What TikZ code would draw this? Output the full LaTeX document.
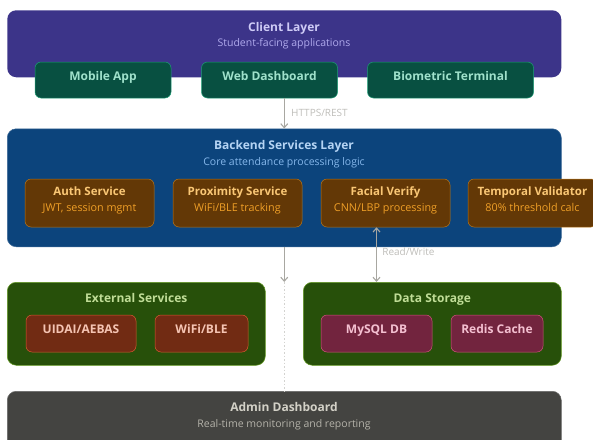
\documentclass[tikz,border=0pt]{standalone}
\usepackage{fontspec}
\setmainfont{Open Sans}
\usepackage{xcolor}
\definecolor{clientbg}{HTML}{3C3489}
\definecolor{clienttxt}{HTML}{CECBF6}
\definecolor{clientsub}{HTML}{AFA9EC}
\definecolor{appbg}{HTML}{085041}
\definecolor{appline}{HTML}{1D9E75}
\definecolor{apptxt}{HTML}{9FE1CB}
\definecolor{backbg}{HTML}{0C447C}
\definecolor{backtxt}{HTML}{B5D4F4}
\definecolor{backsub}{HTML}{85B7EB}
\definecolor{svcbg}{HTML}{633806}
\definecolor{svcline}{HTML}{BA7517}
\definecolor{svctxt}{HTML}{FAC775}
\definecolor{svcsub}{HTML}{EF9F27}
\definecolor{extbg}{HTML}{27500A}
\definecolor{extline}{HTML}{639922}
\definecolor{exttxt}{HTML}{C0DD97}
\definecolor{apibg}{HTML}{712B13}
\definecolor{apiline}{HTML}{D85A30}
\definecolor{apitxt}{HTML}{F5C4B3}
\definecolor{dbbg}{HTML}{72243E}
\definecolor{dbline}{HTML}{D4537E}
\definecolor{dbtxt}{HTML}{F4C0D1}
\definecolor{adminbg}{HTML}{444441}
\definecolor{admintxt}{HTML}{D3D1C7}
\definecolor{adminsub}{HTML}{B4B2A9}
\definecolor{linkgray}{HTML}{A8A7A1}
\usepackage{tikz}
\usetikzlibrary{
    arrows.meta,
    positioning
}
\tikzstyle{layer} = [
    rectangle,
    rounded corners=9pt,
    line width=0.5pt,
    anchor=north west
]
\tikzstyle{box} = [
    rectangle,
    rounded corners=6pt,
    line width=0.5pt,
    text height=9pt,
    text depth=8.5pt,
    font=\bfseries\fontsize{12}{14}\selectfont
]
\tikzstyle{svcttl} = [
    text height=9pt,
    text depth=3pt,
    font=\bfseries\fontsize{11.5}{14}\selectfont
]
\tikzstyle{ttl} = [
    text height=9pt,
    text depth=2pt,
    font=\bfseries\fontsize{12}{15}\selectfont
]
\tikzstyle{sub} = [
    text height=8pt,
    text depth=1.5pt,
    font=\fontsize{10.5}{12}\selectfont
]
\tikzstyle{svcsub} = [
    text height=8pt,
    text depth=2.5pt,
    font=\fontsize{10.8}{12}\selectfont
]
\tikzstyle{link} = [
    draw=linkgray,
    line width=1.1pt,
    -{Straight Barb[length=4pt,width=7pt]}
]
\tikzstyle{linktxt} = [
    font=\fontsize{10}{11}\selectfont,
    text=linkgray!75
]

\begin{document}
\begin{tikzpicture}[x=1pt, y=-1pt]
\useasboundingbox (0,0) rectangle (593,439);

% Client-Schicht
\node[layer, fill=clientbg, minimum width=554, minimum height=67] (client) at (7,10) {};
\node[ttl, text=clienttxt] (clienttitle) at (284,28) {Client Layer};
\node[sub, text=clientsub] (clientsub) at (284,43) {Student-facing applications};

\node[box, fill=appbg, draw=appline, text=apptxt, minimum width=136, minimum height=36] (mobile) at (103,80) {Mobile App};
\node[box, fill=appbg, draw=appline, text=apptxt, minimum width=136, minimum height=36] (web) at (269.5,80) {Web Dashboard};
\node[box, fill=appbg, draw=appline, text=apptxt, minimum width=166, minimum height=36] (bio) at (450.5,80) {Biometric Terminal};

% Backend-Schicht
\node[layer, fill=backbg, draw=backbg!80!white, minimum width=554, minimum height=118] (backend) at (7,128.5) {};
\node[ttl, text=backtxt] (backtitle) at (284,146) {Backend Services Layer};
\node[sub, text=backsub] (backsub) at (284,162) {Core attendance processing logic};

\node[box, fill=svcbg, draw=svcline, minimum width=129, minimum height=48] (auth) at (89.5,203) {};
\node[box, fill=svcbg, draw=svcline, minimum width=129, minimum height=48] (prox) at (237.5,203) {};
\node[box, fill=svcbg, draw=svcline, minimum width=129, minimum height=48] (face) at (385.5,203) {};
\node[box, fill=svcbg, draw=svcline, minimum width=129, minimum height=48] (temporal) at (532.5,203) {};

% Dienst-Texte
\foreach \n/\t/\s in {auth/Auth Service/{JWT, session mgmt},
                       prox/Proximity Service/WiFi\slash BLE tracking,
                       face/Facial Verify/CNN\slash LBP processing,
                       temporal/Temporal Validator/80\% threshold calc} {
    \node[svcttl, text=svctxt] (\n-t) at ([yshift=11]\n.center) {\t};
    \node[svcsub, text=svcsub] (\n-s) at ([yshift=-6]\n.center) {\s};
}

% Externe Dienste und Datenhaltung
\node[layer, fill=extbg, draw=extline, minimum width=258, minimum height=83] (external) at (7,282) {};
\node[ttl, text=exttxt] (exttitle) at ([yshift=-17]external.north) {External Services};
\node[layer, fill=extbg, draw=extline, minimum width=258, minimum height=83] (storage) at (303,282) {};
\node[ttl, text=exttxt] (stotitle) at ([yshift=-17]storage.north) {Data Storage};

\node[box, fill=apibg, draw=apiline, text=apitxt, minimum width=110, minimum height=37] (uidai) at (81,333.5) {UIDAI/AEBAS};
\node[box, fill=apibg, draw=apiline, text=apitxt, minimum width=93, minimum height=37] (wifi) at (201.5,333.5) {WiFi/BLE};
\node[box, fill=dbbg, draw=dbline, text=dbtxt, minimum width=111, minimum height=37] (mysql) at (376.5,333.5) {MySQL DB};
\node[box, fill=dbbg, draw=dbline, text=dbtxt, minimum width=92, minimum height=37] (redis) at (497,333.5) {Redis Cache};

% Admin-Schicht
\node[layer, fill=adminbg, draw=adminbg!80!white, minimum width=554, minimum height=60] (admin) at (7,391) {};
\node[ttl, text=admintxt] (admintitle) at (284,408) {Admin Dashboard};
\node[sub, text=adminsub] (adminsub) at (284,424) {Real-time monitoring and reporting};

% Verbindungen
\draw[link] (backend.north |- web.south) -- (backend.north)
    node[linktxt, midway, right=3pt] {HTTPS/REST};
\coordinate (split) at (backend.south |- external.north);
\draw[link] (backend.south) -- (split);
\draw[linkgray!50, line width=0.8pt, dash pattern=on 1.5pt off 2pt] (split) -- (admin.north);
\draw[link, {Straight Barb[length=4pt,width=7pt]}-{Straight Barb[length=4pt,width=7pt]}]
    (mysql.north |- face.south) -- (mysql.north |- storage.north)
    node[linktxt, pos=0.45, right=2pt] {Read/Write};

\end{tikzpicture}
\end{document}
